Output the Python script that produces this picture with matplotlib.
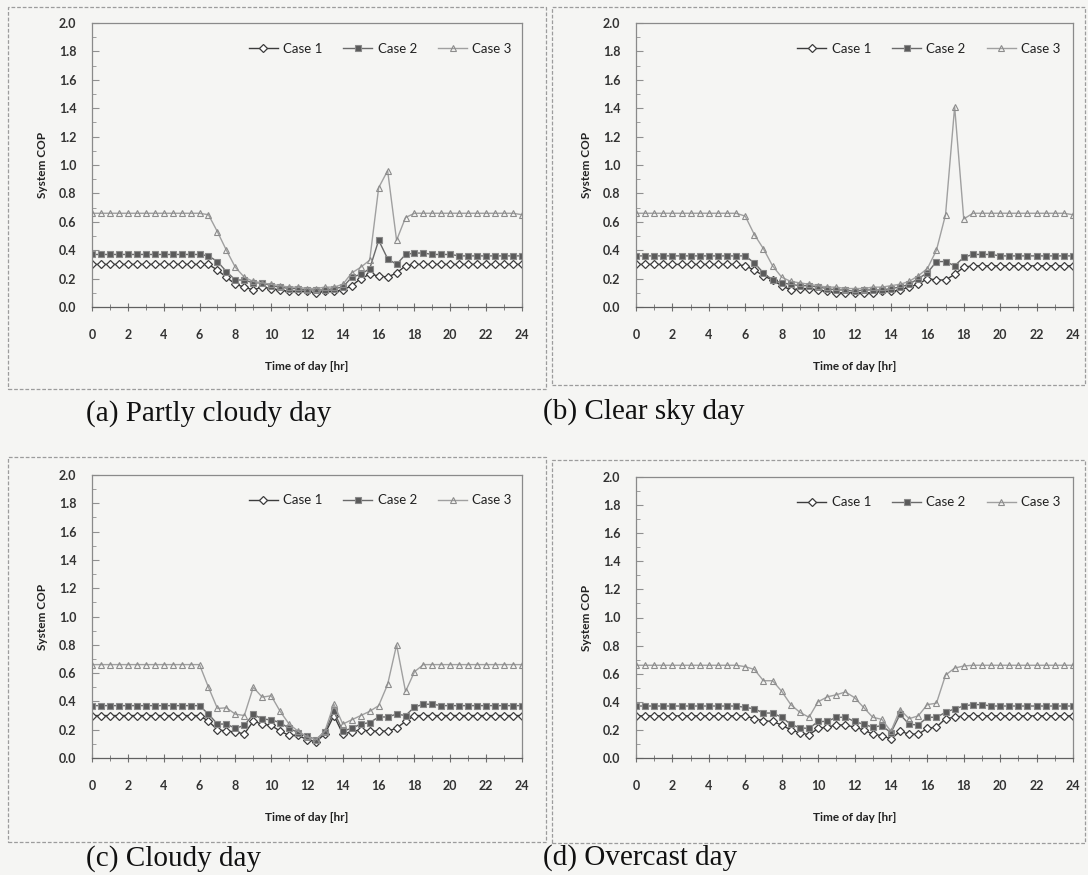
import numpy as np
import matplotlib.pyplot as plt
from matplotlib.patches import Rectangle
from matplotlib.ticker import MultipleLocator

hours = np.arange(0, 24.5, 0.5)

# (a) Partly cloudy day
a_case1 = [0.30, 0.30, 0.30, 0.30, 0.30, 0.30, 0.30, 0.30, 0.30, 0.30, 0.30, 0.30, 0.30,
           0.30, 0.26, 0.21, 0.16, 0.14, 0.12, 0.14, 0.13, 0.12, 0.11, 0.11, 0.11, 0.10,
           0.11, 0.11, 0.12, 0.15, 0.20, 0.23, 0.22, 0.21, 0.24, 0.29,
           0.30, 0.30, 0.30, 0.30, 0.30, 0.30, 0.30, 0.30, 0.30, 0.30, 0.30, 0.30, 0.30]
a_case2 = [0.37, 0.37, 0.37, 0.37, 0.37, 0.37, 0.37, 0.37, 0.37, 0.37, 0.37, 0.37, 0.37,
           0.36, 0.32, 0.25, 0.19, 0.19, 0.17, 0.17, 0.15, 0.14, 0.13, 0.13, 0.12, 0.12,
           0.12, 0.13, 0.14, 0.21, 0.23, 0.27, 0.47, 0.34, 0.30, 0.37,
           0.38, 0.38, 0.37, 0.37, 0.37, 0.36, 0.36, 0.36, 0.36, 0.36, 0.36, 0.36, 0.36]
a_case3 = [0.66, 0.66, 0.66, 0.66, 0.66, 0.66, 0.66, 0.66, 0.66, 0.66, 0.66, 0.66, 0.66,
           0.65, 0.53, 0.40, 0.28, 0.21, 0.18, 0.17, 0.16, 0.15, 0.14, 0.14, 0.13, 0.13,
           0.14, 0.14, 0.16, 0.24, 0.28, 0.33, 0.84, 0.96, 0.47, 0.63,
           0.66, 0.66, 0.66, 0.66, 0.66, 0.66, 0.66, 0.66, 0.66, 0.66, 0.66, 0.66, 0.65]

# (b) Clear sky day
b_case1 = [0.30, 0.30, 0.30, 0.30, 0.30, 0.30, 0.30, 0.30, 0.30, 0.30, 0.30, 0.30, 0.29,
           0.26, 0.22, 0.19, 0.15, 0.12, 0.13, 0.13, 0.12, 0.11, 0.10, 0.10, 0.10, 0.10,
           0.10, 0.11, 0.11, 0.12, 0.14, 0.16, 0.20, 0.19, 0.19, 0.23, 0.28,
           0.29, 0.29, 0.29, 0.29, 0.29, 0.29, 0.29, 0.29, 0.29, 0.29, 0.29, 0.29]
b_case2 = [0.36, 0.36, 0.36, 0.36, 0.36, 0.36, 0.36, 0.36, 0.36, 0.36, 0.36, 0.36, 0.36,
           0.31, 0.24, 0.19, 0.17, 0.16, 0.15, 0.15, 0.14, 0.13, 0.12, 0.12, 0.11, 0.12,
           0.12, 0.12, 0.13, 0.14, 0.16, 0.20, 0.24, 0.32, 0.32, 0.29,
           0.35, 0.37, 0.37, 0.37, 0.36, 0.36, 0.36, 0.36, 0.36, 0.36, 0.36, 0.36, 0.36]
b_case3 = [0.66, 0.66, 0.66, 0.66, 0.66, 0.66, 0.66, 0.66, 0.66, 0.66, 0.66, 0.66, 0.64,
           0.51, 0.41, 0.29, 0.21, 0.18, 0.17, 0.16, 0.15, 0.14, 0.14, 0.13, 0.13, 0.13,
           0.14, 0.14, 0.15, 0.16, 0.18, 0.22, 0.27, 0.40, 0.65, 1.41,
           0.62, 0.66, 0.66, 0.66, 0.66, 0.66, 0.66, 0.66, 0.66, 0.66, 0.66, 0.66, 0.65]

# (c) Cloudy day
c_case1 = [0.30, 0.30, 0.30, 0.30, 0.30, 0.30, 0.30, 0.30, 0.30, 0.30, 0.30, 0.30, 0.30,
           0.26, 0.20, 0.19, 0.185, 0.17, 0.26, 0.24, 0.23, 0.19, 0.16, 0.16, 0.13, 0.115,
           0.17, 0.30, 0.17, 0.185, 0.20, 0.19, 0.19, 0.19, 0.21, 0.26,
           0.30, 0.30, 0.30, 0.30, 0.30, 0.30, 0.30, 0.30, 0.30, 0.30, 0.30, 0.30, 0.30]
c_case2 = [0.37, 0.37, 0.37, 0.37, 0.37, 0.37, 0.37, 0.37, 0.37, 0.37, 0.37, 0.37, 0.37,
           0.31, 0.24, 0.24, 0.21, 0.23, 0.31, 0.275, 0.27, 0.25, 0.21, 0.18, 0.155, 0.13,
           0.185, 0.33, 0.19, 0.21, 0.24, 0.25, 0.29, 0.29, 0.31, 0.30,
           0.36, 0.38, 0.38, 0.37, 0.37, 0.37, 0.37, 0.37, 0.37, 0.37, 0.37, 0.37, 0.37]
c_case3 = [0.66, 0.66, 0.66, 0.66, 0.66, 0.66, 0.66, 0.66, 0.66, 0.66, 0.66, 0.66, 0.66,
           0.50, 0.35, 0.355, 0.31, 0.30, 0.50, 0.43, 0.44, 0.33, 0.24, 0.19, 0.15, 0.13,
           0.19, 0.38, 0.24, 0.27, 0.30, 0.33, 0.37, 0.52, 0.80, 0.47,
           0.61, 0.66, 0.66, 0.66, 0.66, 0.66, 0.66, 0.66, 0.66, 0.66, 0.66, 0.66, 0.66]

# (d) Overcast day
d_case1 = [0.30, 0.30, 0.30, 0.30, 0.30, 0.30, 0.30, 0.30, 0.30, 0.30, 0.30, 0.30, 0.30,
           0.28, 0.265, 0.26, 0.235, 0.20, 0.18, 0.165, 0.21, 0.22, 0.235, 0.235, 0.22, 0.20,
           0.17, 0.16, 0.135, 0.19, 0.17, 0.17, 0.21, 0.22, 0.28, 0.29,
           0.30, 0.30, 0.30, 0.30, 0.30, 0.30, 0.30, 0.30, 0.30, 0.30, 0.30, 0.30, 0.30]
d_case2 = [0.37, 0.37, 0.37, 0.37, 0.37, 0.37, 0.37, 0.37, 0.37, 0.37, 0.37, 0.37, 0.36,
           0.35, 0.32, 0.32, 0.29, 0.24, 0.215, 0.21, 0.26, 0.26, 0.29, 0.29, 0.26, 0.24,
           0.22, 0.23, 0.18, 0.31, 0.24, 0.235, 0.29, 0.29, 0.325, 0.35,
           0.37, 0.38, 0.38, 0.37, 0.37, 0.37, 0.37, 0.37, 0.37, 0.37, 0.37, 0.37, 0.37]
d_case3 = [0.66, 0.66, 0.66, 0.66, 0.66, 0.66, 0.66, 0.66, 0.66, 0.66, 0.66, 0.66, 0.65,
           0.63, 0.55, 0.55, 0.475, 0.38, 0.325, 0.29, 0.40, 0.435, 0.45, 0.47, 0.43, 0.36,
           0.29, 0.275, 0.19, 0.345, 0.28, 0.30, 0.38, 0.39, 0.59, 0.64,
           0.655, 0.66, 0.66, 0.66, 0.66, 0.66, 0.66, 0.66, 0.66, 0.66, 0.66, 0.66, 0.66]

captions = ["(a) Partly cloudy day", "(b) Clear sky day", "(c) Cloudy day", "(d) Overcast day"]
case_labels = ["Case 1", "Case 2", "Case 3"]

W, H = 1088, 875
bg = "#f5f5f3"
fig = plt.figure(figsize=(W / 100, H / 100), dpi=100)
fig.patch.set_facecolor(bg)

# pixel layout: axes box (left, top, right, bottom), outer frame box, caption (x, baseline)
panels = [
    (a_case1, a_case2, a_case3, (92, 23, 522, 307), (8, 7, 546, 389), (86, 421)),
    (b_case1, b_case2, b_case3, (636, 23, 1073, 307), (552, 7, 1085, 385), (543, 419)),
    (c_case1, c_case2, c_case3, (92, 475, 522, 758), (8, 457, 546, 842), (86, 866)),
    (d_case1, d_case2, d_case3, (636, 477, 1073, 758), (552, 460, 1085, 843), (543, 865)),
]

styles = [
    dict(color="#3c3c3c", marker="D", markersize=4, markerfacecolor="white",
         markeredgecolor="#3c3c3c", markeredgewidth=0.9),
    dict(color="#6a6a6a", marker="s", markersize=5, markerfacecolor="#5a5a5a",
         markeredgecolor="#8a8a8a", markeredgewidth=0.8),
    dict(color="#a0a0a0", marker="^", markersize=5, markerfacecolor="none",
         markeredgecolor="#8c8c8c", markeredgewidth=0.8),
]

for k, (s1, s2, s3, ab, fb, cap) in enumerate(panels):
    # outer frame of each chart
    fig.patches.append(Rectangle((fb[0] / W, 1 - fb[3] / H), (fb[2] - fb[0]) / W,
                                 (fb[3] - fb[1]) / H, transform=fig.transFigure,
                                 fill=False, edgecolor="#9c9c9c", lw=0.9, ls=(0, (3, 1.5))))

    ax = fig.add_axes([ab[0] / W, 1 - ab[3] / H, (ab[2] - ab[0]) / W, (ab[3] - ab[1]) / H])
    ax.set_facecolor(bg)
    for series, st, lab in zip([s1, s2, s3], styles, case_labels):
        ax.plot(hours, series, lw=1.0, label=lab, **st)

    ax.set_xlim(0, 24)
    ax.set_ylim(0, 2.0)
    ax.xaxis.set_major_locator(MultipleLocator(2))
    ax.xaxis.set_minor_locator(MultipleLocator(1))
    ax.yaxis.set_minor_locator(MultipleLocator(0.1))
    ax.set_yticks(np.arange(0, 2.01, 0.2))
    ax.set_yticklabels(["%.1f" % v for v in np.arange(0, 2.01, 0.2)])
    ax.tick_params(axis="x", which="both", direction="inout", length=6, color="#707070",
                   labelsize=9, pad=13)
    ax.tick_params(axis="x", which="minor", length=4)
    ax.tick_params(axis="y", which="both", direction="in", length=5, color="#909090",
                   labelsize=9, pad=24)
    ax.tick_params(axis="y", which="minor", length=3)
    ylabels = ax.get_yticklabels()
    for lbl in ax.get_xticklabels() + ylabels:
        lbl.set_fontfamily("Lato")
        lbl.set_fontweight("bold")
        lbl.set_color("#333333")
    for lbl in ylabels:
        lbl.set_horizontalalignment("left")
    for sp in ax.spines.values():
        sp.set_color("#8a8a8a")
        sp.set_linewidth(0.9)
    ax.spines["bottom"].set_color("#606060")

    ax.set_xlabel("Time of day [hr]", fontfamily="Lato", fontweight="bold", fontsize=8.5,
                  color="#222222", labelpad=14)
    ax.set_ylabel("System COP", fontfamily="Lato", fontweight="bold", fontsize=8.5,
                  color="#222222", labelpad=8)

    leg = ax.legend(loc="center", bbox_to_anchor=(0.67, 0.91), ncol=3, frameon=False,
                    handlelength=2.2, handletextpad=0.4, columnspacing=1.6,
                    prop={"family": "Lato", "size": 9.5})
    for t in leg.get_texts():
        t.set_color("#222222")

    fig.text(cap[0] / W, 1 - cap[1] / H, captions[k], fontfamily="Liberation Serif",
             fontsize=21, va="baseline", ha="left", color="#111111")

plt.savefig("out.png", dpi=100, facecolor=bg)
